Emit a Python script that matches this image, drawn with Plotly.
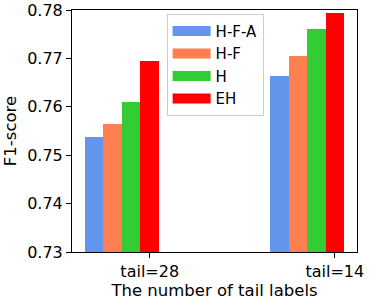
import plotly.graph_objects as go

groups = ["tail=28", "tail=14"]
series = ["H-F-A", "H-F", "H", "EH"]
values = {
    "H-F-A": [0.7537, 0.7663],
    "H-F": [0.7564, 0.7706],
    "H": [0.7609, 0.7760],
    "EH": [0.7694, 0.7793],
}
colors = ["#6495ED", "#FF7F50", "#32CD32", "#FF0000"]
yticks = [0.73, 0.74, 0.75, 0.76, 0.77, 0.78]

FONT = "DejaVu Sans"
bw = 0.1
fig = go.Figure()
xpos = list(range(len(groups)))
for i, (s, c) in enumerate(zip(series, colors)):
    fig.add_trace(go.Bar(
        x=xpos, y=[v - 0.73 for v in values[s]], base=0.73,
        width=bw, offset=-bw * (len(series) - i) + bw / 2,
        marker=dict(color=c, line=dict(width=0)),
        showlegend=False, name=s,
    ))
    fig.add_trace(go.Scatter(
        x=[None], y=[None], mode="lines", name=s, legendgroup=s,
        line=dict(color=c, width=11),
    ))

fig.update_layout(
    width=370, height=300,
    margin=dict(l=72, r=13, t=10, b=48, autoexpand=False),
    paper_bgcolor="white", plot_bgcolor="white",
    font=dict(family=FONT, size=16, color="black"),
    bargap=0,
    showlegend=True,
    legend=dict(
        x=0.332, y=0.985, xanchor="left", yanchor="top",
        bgcolor="rgba(255,255,255,0.8)", bordercolor="#cccccc", borderwidth=1,
        font=dict(family=FONT, size=15), itemwidth=38,
        tracegroupgap=0,
    ),
    xaxis=dict(
        range=[-0.42, 1.12], tickvals=xpos, ticktext=groups,
        showline=True, linecolor="black", linewidth=1, mirror=True,
        ticks="outside", ticklen=5, tickcolor="black", showgrid=False,
        zeroline=False, automargin=False,
        title=dict(text="The number of tail labels", font=dict(size=16.5), standoff=4),
    ),
    yaxis=dict(
        range=[0.73, 0.78], tickvals=yticks, tickformat=".2f",
        showline=True, linecolor="black", linewidth=1, mirror=True,
        ticks="outside", ticklen=5, tickcolor="black", showgrid=False,
        zeroline=False, automargin=False,
        title=dict(text="F1-score", font=dict(size=16.5), standoff=6),
    ),
)
fig.write_html("out.html", config={"displayModeBar": False},
               post_script="document.body.style.margin='0';")
